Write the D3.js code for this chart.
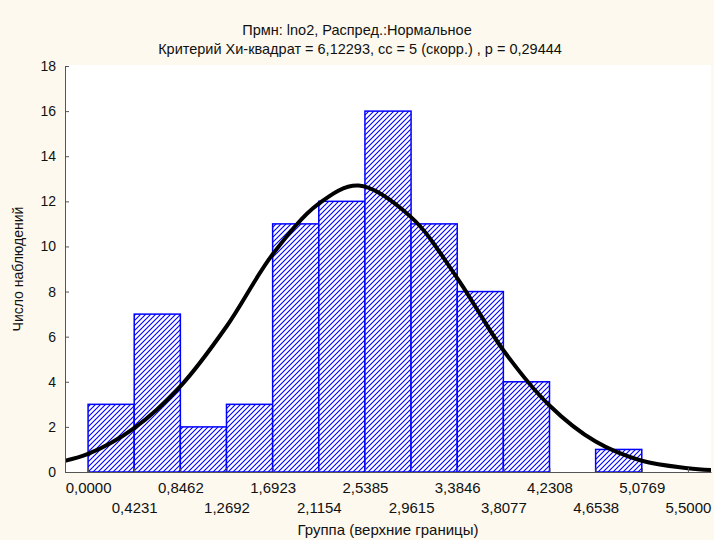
<!DOCTYPE html>
<html>
<head>
<meta charset="utf-8">
<script src="https://cdnjs.cloudflare.com/ajax/libs/d3/7.8.5/d3.min.js"></script>
<style>
  body { margin: 0; background: #fdf9ef; }
  svg { display: block; font-family: "Liberation Sans", Arial, sans-serif; }
</style>
</head>
<body>
<div id="chart"></div>
<script>
// bin edges (upper boundaries) as printed on the x axis
const edgeLabels = ["0,0000","0,4231","0,8462","1,2692","1,6923","2,1154","2,5385",
                    "2,9615","3,3846","3,8077","4,2308","4,6538","5,0769","5,5000"];
// observed counts per bin
const counts = [3, 7, 2, 3, 11, 12, 16, 11, 8, 4, 0, 1, 0];
// fitted normal curve
const curveX = [-0.2115, 0, 0.4231, 0.8462, 1.2692, 1.6923, 2.1154, 2.48, 2.9615,
                3.3846, 3.8077, 4.2308, 4.6538, 5.0769, 5.5, 5.7115];
const curveY = [0.5, 0.8, 1.95, 3.8, 6.45, 9.65, 11.9, 12.7, 11.3,
                8.6, 5.4, 2.95, 1.35, 0.5, 0.17, 0.09];
const yTicks = [0, 2, 4, 6, 8, 10, 12, 14, 16, 18];

const title1 = "Прмн: lno2, Распред.:Нормальное";
const title2 = "Критерий Хи-квадрат = 6,12293, сс = 5 (скорр.) , р = 0,29444";
const xTitle = "Группа (верхние границы)";
const yTitle = "Число наблюдений";

const width = 714, height = 540;
const plot = { left: 65, right: 711, top: 66, bottom: 472 };

const edges = edgeLabels.map(s => +s.replace(",", "."));
const half = (edges[1] - edges[0]) / 2;

const svg = d3.select("#chart").append("svg")
  .attr("width", width).attr("height", height);

svg.append("rect").attr("width", width).attr("height", height).attr("fill", "#fdf9ef");

const defs = svg.append("defs");
const pat = defs.append("pattern")
  .attr("id", "hatch")
  .attr("patternUnits", "userSpaceOnUse")
  .attr("width", 5).attr("height", 5);
pat.append("rect").attr("width", 5).attr("height", 5).attr("fill", "#fff");
pat.append("path")
  .attr("d", "M-1,1 l2,-2 M0,5 l5,-5 M4,6 l2,-2")
  .attr("stroke", "#0000ff").attr("stroke-width", 1.1);

defs.append("clipPath").attr("id", "clip")
  .append("rect")
  .attr("x", plot.left).attr("y", plot.top - 2)
  .attr("width", plot.right - plot.left).attr("height", plot.bottom - plot.top + 2);

const x = d3.scaleLinear()
  .domain([edges[0] - half, edges[edges.length - 1] + half])
  .range([plot.left, plot.right]);
const y = d3.scaleLinear().domain([0, 18]).range([plot.bottom, plot.top]);

// plot area
svg.append("rect")
  .attr("x", plot.left).attr("y", plot.top - 1)
  .attr("width", plot.right - plot.left).attr("height", plot.bottom - plot.top + 1)
  .attr("fill", "#fff");

// bars (empty bins are not drawn)
const bins = counts.map((v, i) => ({ v, x0: edges[i], x1: edges[i + 1] }))
  .filter(b => b.v > 0);
svg.append("g").selectAll("rect")
  .data(bins)
  .join("rect")
  .attr("x", d => x(d.x0))
  .attr("y", d => y(d.v))
  .attr("width", d => x(d.x1) - x(d.x0))
  .attr("height", d => y(0) - y(d.v))
  .attr("fill", "url(#hatch)")
  .attr("stroke", "#0000ff")
  .attr("stroke-width", 1.5);

// normal curve
const pts = curveX.map((v, i) => [v, curveY[i]]);
svg.append("path")
  .datum(pts)
  .attr("clip-path", "url(#clip)")
  .attr("fill", "none")
  .attr("stroke", "#000")
  .attr("stroke-width", 4)
  .attr("d", d3.line().x(d => x(d[0])).y(d => y(d[1])).curve(d3.curveCatmullRom));

// axes
const xAxis = svg.append("g")
  .attr("transform", `translate(0,${plot.bottom})`)
  .call(d3.axisBottom(x).tickValues(edges).tickSizeInner(-4).tickSizeOuter(0)
    .tickPadding(10).tickFormat((d, i) => edgeLabels[i]));
xAxis.selectAll(".tick text")
  .attr("y", (d, i) => i % 2 ? 30 : 10);

const yAxis = svg.append("g")
  .attr("transform", `translate(${plot.left},0)`)
  .call(d3.axisLeft(y).tickValues(yTicks).tickSizeInner(-4).tickSizeOuter(0).tickPadding(9));

xAxis.attr("font-family", null).attr("font-size", 15);
yAxis.attr("font-family", null).attr("font-size", 14);
[xAxis, yAxis].forEach(g => {
  g.select(".domain").attr("stroke", "#555");
  g.selectAll(".tick line").attr("stroke", "#555");
  g.selectAll(".tick text").attr("fill", "#111");
});

// titles
svg.append("text").attr("x", 357).attr("y", 35)
  .attr("text-anchor", "middle").attr("font-size", 14.5).attr("fill", "#111").text(title1);
svg.append("text").attr("x", 360).attr("y", 53.5)
  .attr("text-anchor", "middle").attr("font-size", 14.5).attr("fill", "#111").text(title2);
svg.append("text").attr("x", (plot.left + plot.right) / 2).attr("y", 535)
  .attr("text-anchor", "middle").attr("font-size", 15).attr("fill", "#111").text(xTitle);
svg.append("text")
  .attr("transform", `translate(23,${(plot.top + plot.bottom) / 2}) rotate(-90)`)
  .attr("text-anchor", "middle").attr("font-size", 14).attr("fill", "#111").text(yTitle);
</script>
</body>
</html>
